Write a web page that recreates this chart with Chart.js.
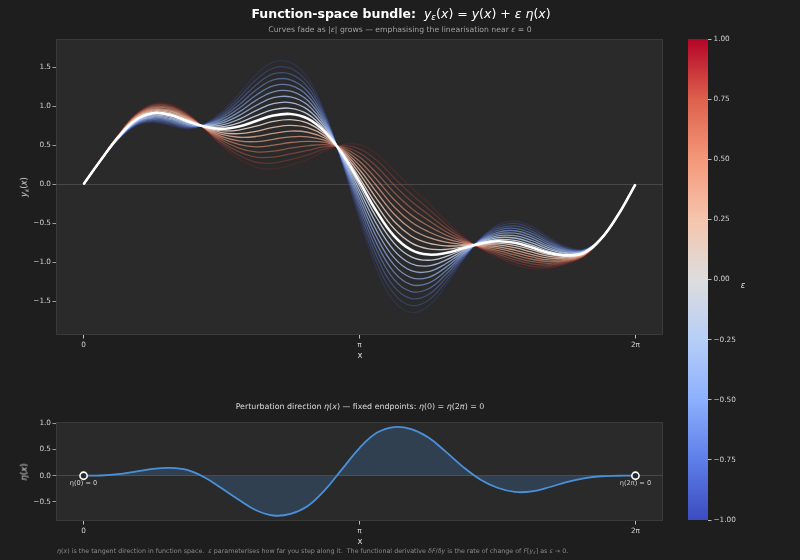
<!DOCTYPE html>
<html>
<head>
<meta charset="utf-8">
<script src="https://cdn.jsdelivr.net/npm/chart.js@4.4.1/dist/chart.umd.min.js"></script>
<style>
  html, body { margin: 0; padding: 0; background: #1e1e1e; }
  #wrap { position: relative; width: 800px; height: 560px; overflow: hidden; font-family: 'DejaVu Sans', sans-serif; }
  canvas { position: absolute; }
  .t { position: absolute; white-space: pre; line-height: 1; transform: translate(-50%, -50%); will-change: transform; }
  .l { position: absolute; white-space: pre; line-height: 1; transform: translate(0, -50%); will-change: transform; }
  .r { transform: translate(-50%, -50%) rotate(-90deg); }
  sub { font-size: 70%; vertical-align: -0.3em; line-height: 0; }
</style>
</head>
<body>
<div id="wrap">
  <canvas id="bundle" width="680" height="352" style="left:0;top:0"></canvas>
  <canvas id="eta" width="680" height="140" style="left:0;top:400px"></canvas>
  <canvas id="cbar" width="120" height="560" style="left:680px;top:0"></canvas>

  <div class="t" style="left:401px;top:14px;font-size:12.5px;color:#fff"><b>Function-space bundle:</b>  <i>y</i><sub><i>ε</i></sub>(<i>x</i>) = <i>y</i>(<i>x</i>) + <i>ε</i> <i>η</i>(<i>x</i>)</div>
  <div class="t" style="left:400px;top:30px;font-size:7.7px;color:#a0a0a0">Curves fade as |<i>ε</i>| grows — emphasising the linearisation near <i>ε</i> = 0</div>
  <div class="t r" style="left:24px;top:187px;font-size:8.5px;color:#dcdcdc"><i>y</i><sub><i>ε</i></sub>(<i>x</i>)</div>
  <div class="t" style="left:360px;top:355px;font-size:8.5px;color:#dcdcdc">x</div>

  <div class="t" style="left:360px;top:407px;font-size:7.9px;color:#dcdcdc">Perturbation direction <i>η</i>(<i>x</i>) — fixed endpoints: <i>η</i>(0) = <i>η</i>(2<i>π</i>) = 0</div>
  <div class="t r" style="left:24px;top:472px;font-size:8.5px;color:#dcdcdc"><i>η</i>(<i>x</i>)</div>
  <div class="t" style="left:360px;top:541px;font-size:8.5px;color:#dcdcdc">x</div>

  <div class="t" style="left:743px;top:285px;font-size:8.5px;color:#dcdcdc"><i>ε</i></div>

  <div class="l" style="left:57px;top:551px;font-size:6.35px;color:#8a8a8a"><i>η</i>(<i>x</i>) is the tangent direction in function space.  <i>ε</i> parameterises how far you step along it.  The functional derivative <i>δF</i>/<i>δy</i> is the rate of change of <i>F</i>[<i>y</i><sub><i>ε</i></sub>] as <i>ε</i> → 0.</div>
</div>

<script>
// sample grid: 0 .. 2π in steps of π/16
const xs = Array.from({ length: 33 }, (_, k) => k * Math.PI / 16);

const yBase = [0, 0.31, 0.60, 0.82, 0.91, 0.89, 0.81, 0.74, 0.71, 0.74, 0.81, 0.88, 0.90, 0.84, 0.67, 0.39,
  0.03, -0.35, -0.66, -0.84, -0.90, -0.88, -0.82, -0.76, -0.73, -0.75, -0.81, -0.88, -0.91, -0.88, -0.70, -0.39, 0];

// perturbation direction η(x)
const etaVals = [0, 0.005, 0.03, 0.08, 0.13, 0.15, 0.11, -0.03, -0.24, -0.46, -0.66, -0.76, -0.73, -0.58, -0.27, 0.13,
  0.53, 0.82, 0.93, 0.89, 0.73, 0.46, 0.17, -0.07, -0.23, -0.31, -0.30, -0.22, -0.12, -0.05, -0.01, 0, 0];

const epsilons = [-1, -0.9, -0.8, -0.7, -0.6, -0.5, -0.4, -0.3, -0.2, -0.1, 0,
  0.1, 0.2, 0.3, 0.4, 0.5, 0.6, 0.7, 0.8, 0.9, 1];

const xTickVals = [0, Math.PI, 2 * Math.PI];
const xTickLabels = ['0', 'π', '2π'];
const yTicksTop = [-1.5, -1, -0.5, 0, 0.5, 1, 1.5];
const yTicksEta = [-0.5, 0, 0.5, 1];
const cbarTicks = [-1, -0.75, -0.5, -0.25, 0, 0.25, 0.5, 0.75, 1];

// matplotlib coolwarm, approximated
const coolwarmStops = [
  [0.0, [59, 76, 192]],
  [0.125, [94, 126, 232]],
  [0.25, [141, 176, 254]],
  [0.375, [183, 206, 247]],
  [0.5, [221, 221, 221]],
  [0.625, [245, 197, 173]],
  [0.75, [244, 152, 122]],
  [0.875, [221, 96, 77]],
  [1.0, [180, 4, 38]]
];

function coolwarm(t) {
  for (let i = 1; i < coolwarmStops.length; i++) {
    const [t1, c1] = coolwarmStops[i];
    const [t0, c0] = coolwarmStops[i - 1];
    if (t <= t1) {
      const f = (t - t0) / (t1 - t0);
      return c0.map((v, j) => Math.round(v + (c1[j] - v) * f));
    }
  }
  return coolwarmStops[coolwarmStops.length - 1][1];
}

const fmt = (v, d) => (v < 0 ? '−' : '') + Math.abs(v).toFixed(d);

Chart.defaults.font.family = "'DejaVu Sans', sans-serif";
Chart.defaults.color = '#cfcfcf';

const TICK = '#bdbdbd';

const plotFrame = {
  id: 'plotFrame',
  beforeDraw(chart) {
    const { ctx, chartArea: a } = chart;
    ctx.save();
    ctx.fillStyle = '#2a2a2a';
    ctx.fillRect(a.left, a.top, a.width, a.height);
    ctx.strokeStyle = '#3a3a3a';
    ctx.lineWidth = 1;
    ctx.strokeRect(a.left + 0.5, a.top + 0.5, a.width - 1, a.height - 1);
    ctx.restore();
  }
};

function xScale() {
  return {
    type: 'linear',
    min: -0.314,
    max: 6.597,
    afterBuildTicks: s => { s.ticks = xTickVals.map(v => ({ value: v })); },
    ticks: { callback: (v, i) => xTickLabels[i], autoSkip: false, maxRotation: 0, font: { size: 7.3 }, padding: 2 },
    grid: { drawOnChartArea: false, tickLength: 3.5, tickColor: TICK },
    border: { display: false }
  };
}

function yScale(min, max, ticks) {
  return {
    min, max,
    afterFit: s => { s.width = 56; },
    afterBuildTicks: s => { s.ticks = ticks.map(v => ({ value: v })); },
    ticks: { callback: v => fmt(v, 1), font: { size: 7.3 }, padding: 1.5 },
    grid: {
      color: c => (c.tick && c.tick.value === 0 ? '#505050' : 'transparent'),
      lineWidth: 0.8,
      tickLength: 3.5,
      tickColor: TICK
    },
    border: { display: false }
  };
}

// top: the bundle y(x) + ε η(x)
const bundleSets = epsilons.map(eps => {
  const a = Math.abs(eps);
  const centre = eps === 0;
  const [r, g, b] = centre ? [255, 255, 255] : coolwarm((eps + 1) / 2);
  const alpha = centre ? 1 : 0.03 + 0.95 * Math.pow(1 - a, 0.8);
  return {
    data: xs.map((x, k) => ({ x, y: yBase[k] + eps * etaVals[k] })),
    borderColor: `rgba(${r},${g},${b},${alpha.toFixed(3)})`,
    borderWidth: centre ? 2.6 : 1.3,
    pointRadius: 0,
    tension: 0.4,
    fill: false,
    order: Math.round(a * 10)
  };
});

new Chart(document.getElementById('bundle'), {
  type: 'line',
  data: { datasets: bundleSets },
  options: {
    responsive: false,
    animation: false,
    devicePixelRatio: 1,
    layout: { padding: { top: 39, right: 17, left: 0, bottom: 0 } },
    plugins: { legend: { display: false }, tooltip: { enabled: false } },
    scales: {
      x: { ...xScale(), afterFit: s => { s.height = 17; } },
      y: yScale(-1.93, 1.86, yTicksTop)
    }
  },
  plugins: [plotFrame]
});

// bottom: η(x) with its fixed endpoints
const endLabels = {
  id: 'endLabels',
  afterDatasetsDraw(chart) {
    const { ctx, scales: { x, y } } = chart;
    const last = xs.length - 1;
    ctx.save();
    ctx.fillStyle = '#cfcfcf';
    ctx.font = "6.6px 'DejaVu Sans'";
    ctx.textAlign = 'center';
    ctx.textBaseline = 'top';
    ctx.fillText('η(0) = 0', x.getPixelForValue(xs[0]), y.getPixelForValue(etaVals[0]) + 4.5);
    ctx.fillText('η(2π) = 0', x.getPixelForValue(xs[last]), y.getPixelForValue(etaVals[last]) + 4.5);
    ctx.restore();
  }
};

new Chart(document.getElementById('eta'), {
  type: 'line',
  data: {
    datasets: [
      {
        data: [{ x: xs[0], y: etaVals[0] }, { x: xs[xs.length - 1], y: etaVals[etaVals.length - 1] }],
        showLine: false,
        pointRadius: 3.6,
        pointBackgroundColor: '#2a2a2a',
        pointBorderColor: '#ffffff',
        pointBorderWidth: 1.6,
        order: 0
      },
      {
        data: xs.map((x, k) => ({ x, y: etaVals[k] })),
        borderColor: '#4a90d9',
        borderWidth: 1.8,
        backgroundColor: 'rgba(74,144,217,0.22)',
        fill: 'origin',
        pointRadius: 0,
        tension: 0.4,
        order: 1
      }
    ]
  },
  options: {
    responsive: false,
    animation: false,
    devicePixelRatio: 1,
    layout: { padding: { top: 22, right: 17, left: 0, bottom: 0 } },
    plugins: { legend: { display: false }, tooltip: { enabled: false } },
    scales: {
      x: { ...xScale(), afterFit: s => { s.height = 19; } },
      y: yScale(-0.865, 1.027, yTicksEta)
    }
  },
  plugins: [plotFrame, endLabels]
});

// colour bar for ε
new Chart(document.getElementById('cbar'), {
  type: 'bar',
  data: {
    labels: ['ε'],
    datasets: [{
      data: [[-1, 1]],
      borderWidth: 0,
      barPercentage: 1,
      categoryPercentage: 1,
      backgroundColor: c => {
        const a = c.chart.chartArea;
        if (!a) return '#ddd';
        const g = c.chart.ctx.createLinearGradient(0, a.bottom, 0, a.top);
        coolwarmStops.forEach(([t, [r, gg, b]]) => g.addColorStop(t, `rgb(${r},${gg},${b})`));
        return g;
      }
    }]
  },
  options: {
    responsive: false,
    animation: false,
    devicePixelRatio: 1,
    layout: { padding: { top: 39, right: 0, left: 8, bottom: 40 } },
    plugins: { legend: { display: false }, tooltip: { enabled: false } },
    scales: {
      x: { display: false },
      y: {
        position: 'right',
        min: -1,
        max: 1,
        afterFit: s => { s.width = 92; },
        afterBuildTicks: s => { s.ticks = cbarTicks.map(v => ({ value: v })); },
        ticks: { callback: v => fmt(v, 2), font: { size: 7.3 }, padding: 2 },
        grid: { drawOnChartArea: false, tickLength: 3.5, tickColor: TICK },
        border: { display: false }
      }
    }
  }
});
</script>
</body>
</html>
